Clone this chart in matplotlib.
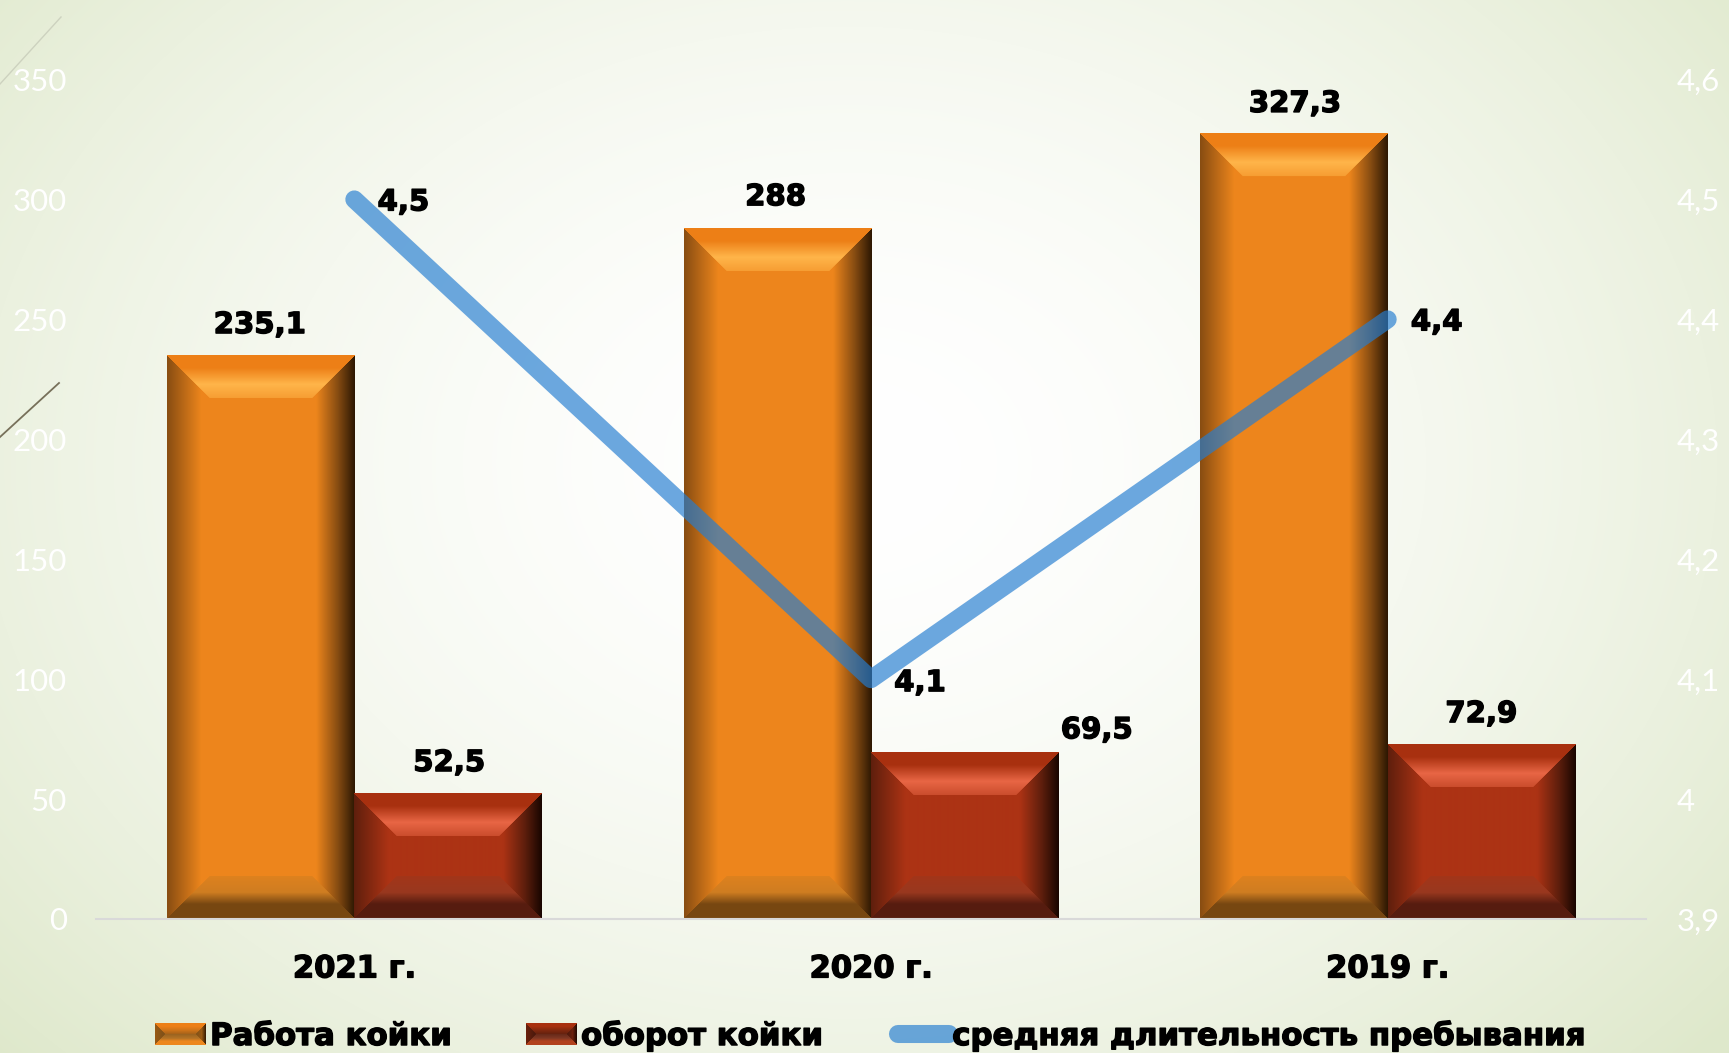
import numpy as np
import matplotlib
matplotlib.use('Agg')
import matplotlib.pyplot as plt
from matplotlib.lines import Line2D
from matplotlib.patches import Patch
from matplotlib.image import BboxImage
from matplotlib.transforms import Bbox, TransformedBbox
from matplotlib.legend_handler import HandlerBase
import matplotlib.patheffects as pe

categories = ['2021 г.', '2020 г.', '2019 г.']
work = [235.1, 288, 327.3]
turnover = [52.5, 69.5, 72.9]
stay = [4.5, 4.1, 4.4]
work_labels = ['235,1', '288', '327,3']
turnover_labels = ['52,5', '69,5', '72,9']
stay_labels = ['4,5', '4,1', '4,4']
left_ticks = [0, 50, 100, 150, 200, 250, 300, 350]
right_ticks = [3.9, 4.0, 4.1, 4.2, 4.3, 4.4, 4.5, 4.6]
right_tick_labels = ['3,9', '4', '4,1', '4,2', '4,3', '4,4', '4,5', '4,6']
series_names = ['Работа койки', 'оборот койки', 'средняя длительность пребывания']

W, H = 1729, 1053
BOLD = 'DejaVu Sans'
LIGHT = ['Lato', 'Open Sans', 'DejaVu Sans']
HEAVY = [pe.withStroke(linewidth=1.0, foreground='black')]
ORANGE = dict(base=(0.933, 0.525, 0.110), top=(1.0, 0.71, 0.29), edge_top=(0.93, 0.50, 0.09),
              left=(0.53, 0.30, 0.07), right=(0.17, 0.09, 0.01),
              bot_in=(0.81, 0.49, 0.13), bot_edge=(0.47, 0.28, 0.07))
RED = dict(base=(0.675, 0.20, 0.08), top=(0.91, 0.40, 0.27), edge_top=(0.66, 0.19, 0.06),
           left=(0.37, 0.12, 0.05), right=(0.09, 0.02, 0.0),
           bot_in=(0.60, 0.22, 0.12), bot_edge=(0.34, 0.11, 0.06))
ORANGE_KEY = dict(base=(0.50, 0.32, 0.10), top=(0.80, 0.45, 0.10), edge_top=(0.93, 0.50, 0.09),
                  left=(0.60, 0.35, 0.08), right=(0.20, 0.10, 0.01),
                  bot_in=(0.70, 0.45, 0.15), bot_edge=(0.93, 0.53, 0.12))
RED_KEY = dict(base=(0.30, 0.10, 0.05), top=(0.50, 0.16, 0.06), edge_top=(0.66, 0.19, 0.06),
               left=(0.42, 0.13, 0.05), right=(0.12, 0.03, 0.0),
               bot_in=(0.50, 0.22, 0.14), bot_edge=(0.70, 0.26, 0.12))


def bevel(w, h, c, b=43):
    """Shaded bevel image of a w x h pixel bar."""
    w, h = int(round(w)), int(round(h))
    b = min(b, h // 2, w // 2)
    x = (np.arange(w) + .5)[None, :].repeat(h, 0)
    y = (np.arange(h) + .5)[:, None].repeat(w, 1)
    dl, dr, dt, db = x, w - x, y, h - y
    img = np.ones((h, w, 3)) * np.array(c['base'])

    def ramp(t, stops):
        ts, cols = zip(*stops)
        cols = np.array(cols)
        return np.stack([np.interp(t, ts, cols[:, i]) for i in range(3)], -1)

    dmin = np.minimum.reduce([dl, dr, dt, db])
    inside = dmin < b
    m = inside & (dl == dmin)
    img[m] = ramp(dl[m] / b, [(0, c['left']), (.8, c['base']), (1, c['base'])])
    m = inside & (dr == dmin)
    img[m] = ramp(dr[m] / b, [(0, c['right']), (.4, c['left']), (.9, c['base']), (1, c['base'])])
    m = inside & (db == dmin)
    soft = tuple((np.array(c['bot_in']) + np.array(c['base'])) / 2)
    img[m] = ramp(db[m] / b, [(0, c['bot_edge']), (.35, c['bot_edge']), (.62, c['bot_in']), (1, soft)])
    m = inside & (dt == dmin)
    mid = tuple((np.array(c['top']) + np.array(c['base'])) / 2)
    img[m] = ramp(dt[m] / b, [(0, c['edge_top']), (.3, c['edge_top']), (.68, c['top']), (1, mid)])
    return img


class BevelHandler(HandlerBase):
    def __init__(self, colors):
        super().__init__()
        self.colors = colors

    def create_artists(self, legend, orig, xd, yd, width, height, fontsize, trans):
        box = TransformedBbox(Bbox([[-xd, -yd], [-xd + width, -yd + height]]), trans)
        im = BboxImage(box, interpolation='bilinear')
        im.set_data(bevel(52, 22, self.colors, b=11))
        im.set_figure(legend.figure)
        return [im]


fig = plt.figure(figsize=(W / 100, H / 100), dpi=100)

# background
bg = fig.add_axes([0, 0, 1, 1], zorder=-1)
bg.axis('off')
yy, xx = np.mgrid[0:H, 0:W]
r = np.hypot((xx - 0.49 * W) / (0.58 * W), (yy - 0.44 * H) / (0.72 * H))
t = np.clip(r, 0, 1.15)[..., None] ** 1.7
bg.imshow(np.array([1, 1, 1]) * (1 - t) + np.array([0.90, 0.93, 0.84]) * t, aspect='auto')
fig.add_artist(Line2D([0 / W, 61 / W], [1 - 84 / H, 1 - 17 / H], color='#cdd2bf', lw=1))
fig.add_artist(Line2D([0 / W, 59 / W], [1 - 437 / H, 1 - 383 / H], color='#77705a', lw=1.3))

L, R, B, T = 96, 1646, 919, 79.5
ax = fig.add_axes([L / W, 1 - B / H, (R - L) / W, (B - T) / H])
ax.patch.set_alpha(0)
x = np.arange(len(categories))
bw = 0.3625
bars1 = ax.bar(x - bw / 2, work, bw, color='#EE861C', label=series_names[0], zorder=2)
bars2 = ax.bar(x + bw / 2, turnover, bw, color='#AC3414', label=series_names[1], zorder=2)
ax.set_xlim(-.5, 2.5)
ax.set_ylim(0, 350)
for spine in ['top', 'left', 'right']:
    ax.spines[spine].set_visible(False)
ax.spines['bottom'].set_color('#d9d9d9')
ax.spines['bottom'].set_linewidth(1.5)
ax.set_xticks(x, categories)
ax.set_yticks(left_ticks)
ax.tick_params(axis='both', length=0)
ax.tick_params(axis='x', pad=25.5)
ax.tick_params(axis='y', pad=21)
for lab in ax.get_xticklabels():
    lab.set(color='black', fontfamily=BOLD, fontweight='bold', fontsize=22, path_effects=HEAVY)
for lab in ax.get_yticklabels():
    lab.set(color='white', fontfamily=LIGHT, fontweight='normal', fontsize=22.5)

sx = (R - L) / 3
sy = (B - T) / 350
for group, style in ((bars1, ORANGE), (bars2, RED)):
    for bar in group:
        x0, w, h = bar.get_x(), bar.get_width(), bar.get_height()
        ax.imshow(bevel(w * sx, h * sy, style), extent=(x0, x0 + w, 0, h), aspect='auto',
                  zorder=2.5, interpolation='bilinear')
ax.set_xlim(-.5, 2.5)
ax.set_ylim(0, 350)

ax2 = ax.twinx()
ax2.patch.set_alpha(0)
ax2.set_ylim(3.9, 4.6)
ax2.set_yticks(right_ticks, right_tick_labels)
for spine in ax2.spines.values():
    spine.set_visible(False)
ax2.tick_params(axis='y', length=0, pad=22)
for lab in ax2.get_yticklabels():
    lab.set(color='white', fontfamily=LIGHT, fontweight='normal', fontsize=22.5)
line, = ax2.plot(x, stay, color='#247DD1', alpha=.67, lw=13, solid_capstyle='round',
                 solid_joinstyle='round', label=series_names[2], zorder=3)

lab_kw = dict(textcoords='offset points', ha='center', va='center', fontfamily=BOLD,
              fontweight='bold', fontsize=21, color='black', annotation_clip=False, zorder=5,
              path_effects=HEAVY)
px = 0.72
work_off = [(-1, 30), (-2, 31), (1, 30)]
turn_off = [(1, 30), (132, 22), (0, 30)]
stay_off = [(49, -3), (49, -4), (49, -3)]
for xi, v, s, o in zip(x - bw / 2, work, work_labels, work_off):
    ax2.annotate(s, (xi, 3.9 + v / 500), xytext=(o[0] * px, o[1] * px), **lab_kw)
for xi, v, s, o in zip(x + bw / 2, turnover, turnover_labels, turn_off):
    ax2.annotate(s, (xi, 3.9 + v / 500), xytext=(o[0] * px, o[1] * px), **lab_kw)
for xi, v, s, o in zip(x, stay, stay_labels, stay_off):
    ax2.annotate(s, (xi, v), xytext=(o[0] * px, o[1] * px), **lab_kw)

handles = [Patch(label=series_names[0]), Patch(label=series_names[1]), line]
leg = fig.legend(handles=handles, loc='center', bbox_to_anchor=(0.504, 1 - 1036 / H), ncol=3, frameon=False,
                 prop=dict(family=BOLD, weight='bold', size=22.2), handlelength=1.65, handletextpad=0.12,
                 columnspacing=2.4, handler_map={handles[0]: BevelHandler(ORANGE_KEY), handles[1]: BevelHandler(RED_KEY)})
for txt in leg.get_texts():
    txt.set_path_effects(HEAVY)

fig.savefig('out.png', dpi=100)
